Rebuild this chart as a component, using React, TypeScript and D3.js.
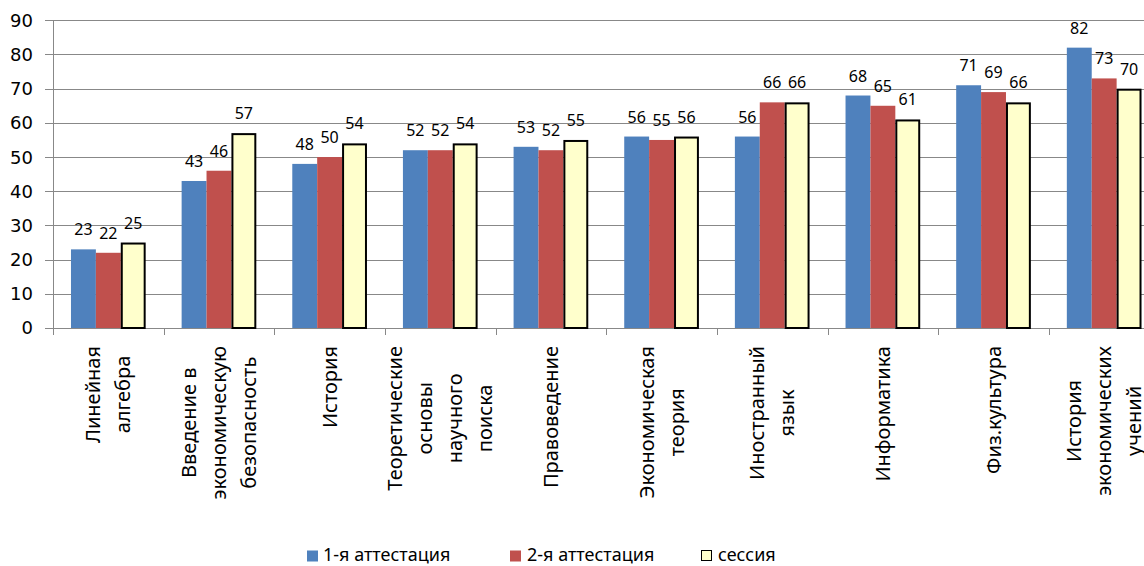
import React, { useEffect, useRef } from "react";
import * as d3 from "d3";

const categories: string[][] = [
  ["Линейная", "алгебра"],
  ["Введение в", "экономическую", "безопасность"],
  ["История"],
  ["Теоретические", "основы", "научного", "поиска"],
  ["Правоведение"],
  ["Экономическая", "теория"],
  ["Иностранный", "язык"],
  ["Информатика"],
  ["Физ.культура"],
  ["История", "экономических", "учений"],
];
const seriesNames = ["1-я аттестация", "2-я аттестация", "сессия"];
const att1 = [23, 43, 48, 52, 53, 56, 56, 68, 71, 82];
const att2 = [22, 46, 50, 52, 52, 55, 66, 65, 69, 73];
const session = [25, 57, 54, 54, 55, 56, 66, 61, 66, 70];
const yTicks = [0, 10, 20, 30, 40, 50, 60, 70, 80, 90];

const colors = ["#4F81BD", "#C0504D", "#FFFFCC"];
const W = 1144;
const H = 566;

export default function App() {
  const ref = useRef<SVGSVGElement | null>(null);

  useEffect(() => {
    const svg = d3.select(ref.current);
    svg.selectAll("*").remove();
    const left = 53;
    const step = 110.65;
    const keys = categories.map((_, i) => String(i));
    const x0 = d3
      .scaleBand<string>()
      .domain(keys)
      .range([left, left + step * categories.length])
      .paddingInner(0.325)
      .paddingOuter(0.1625);
    const x1 = d3.scaleBand<string>().domain(seriesNames).range([0, x0.bandwidth()]);
    const y = d3.scaleLinear().domain([0, 90]).range([328, 20.3]);
    const series = [att1, att2, session];

    const g = svg.append("g");
    // gridlines
    g.selectAll("line.grid")
      .data(yTicks)
      .join("line")
      .attr("x1", left - 8)
      .attr("x2", W)
      .attr("y1", (d) => Math.round(y(d)) + 0.5)
      .attr("y2", (d) => Math.round(y(d)) + 0.5)
      .attr("stroke", "#888888")
      .attr("stroke-width", 1);
    // y axis line
    g.append("line")
      .attr("x1", left + 0.5)
      .attr("x2", left + 0.5)
      .attr("y1", y(90))
      .attr("y2", y(0))
      .attr("stroke", "#888888");
    // y tick labels
    g.selectAll("text.yt")
      .data(yTicks)
      .join("text")
      .attr("x", 33)
      .attr("y", (d) => y(d))
      .attr("dy", "0.36em")
      .attr("text-anchor", "end")
      .attr("font-family", "DejaVu Sans")
      .attr("font-size", 18)
      .attr("fill", "#000")
      .text((d) => d);
    // x ticks at category boundaries
    const bounds = d3.range(categories.length + 1).map((i) => left + i * step);
    g.selectAll("line.xt")
      .data(bounds)
      .join("line")
      .attr("x1", (d) => Math.round(d) + 0.5)
      .attr("x2", (d) => Math.round(d) + 0.5)
      .attr("y1", y(0))
      .attr("y2", y(0) + 7)
      .attr("stroke", "#888888");

    // bars
    series.forEach((vals, si) => {
      const isSession = si === 2;
      g.selectAll(`rect.s${si}`)
        .data(vals)
        .join("rect")
        .attr("x", (_, i) => x0(keys[i])! + x1(seriesNames[si])! + (isSession ? 1 : 0))
        .attr("y", (d) => y(d) + (isSession ? 1 : 0))
        .attr("width", x1.bandwidth() - (isSession ? 2 : 0))
        .attr("height", (d) => y(0) - y(d) - (isSession ? 1 : 0))
        .attr("fill", colors[si])
        .attr("stroke", isSession ? "#000" : "none")
        .attr("stroke-width", isSession ? 2 : 0);
      g.selectAll(`text.l${si}`)
        .data(vals)
        .join("text")
        .attr("x", (_, i) => x0(keys[i])! + x1(seriesNames[si])! + x1.bandwidth() / 2)
        .attr("y", (d) => y(d) - 14)
        .attr("text-anchor", "middle")
        .attr("font-family", "Noto Sans")
        .attr("font-size", 16)
        .attr("fill", "#000")
        .text((d) => d);
    });

    // category labels
    const lineH = 30;
    const top = 346;
    categories.forEach((lines, i) => {
      const cx = x0(keys[i])! + x0.bandwidth() / 2;
      const cg = g.append("g");
      const texts = cg
        .selectAll("text")
        .data(lines)
        .join("text")
        .attr("font-family", "Noto Sans")
        .attr("font-size", 20)
        .attr("fill", "#000")
        .attr("text-anchor", "middle")
        .text((d) => d);
      let maxLen = 0;
      texts.each(function () {
        maxLen = Math.max(maxLen, (this as SVGTextElement).getComputedTextLength());
      });
      const cy = top + maxLen / 2;
      const n = lines.length;
      texts.attr("transform", (_, j) => {
        const off = (j - (n - 1) / 2) * lineH;
        const bx = cx + off + 7;
        return `translate(${bx},${cy}) rotate(-90)`;
      });
    });

    // legend
    const legend = [
      { name: seriesNames[0], sx: 307, tx: 323 },
      { name: seriesNames[1], sx: 510, tx: 527 },
      { name: seriesNames[2], sx: 701, tx: 718 },
    ];
    legend.forEach((l, i) => {
      g.append("rect")
        .attr("x", l.sx + (i === 2 ? 0.5 : 0))
        .attr("y", 550.5)
        .attr("width", i === 2 ? 10 : 11)
        .attr("height", i === 2 ? 10 : 11)
        .attr("fill", colors[i])
        .attr("stroke", i === 2 ? "#000" : "none")
        .attr("stroke-width", 1);
      g.append("text")
        .attr("x", l.tx)
        .attr("y", 561)
        .attr("font-family", "Noto Sans")
        .attr("font-size", 18)
        .attr("fill", "#000")
        .text(l.name);
    });
  }, []);

  return (
    <div style={{ position: "fixed", left: 0, top: 0 }}>
      <svg ref={ref} width={W} height={H} style={{ display: "block", background: "#fff" }} />
    </div>
  );
}
